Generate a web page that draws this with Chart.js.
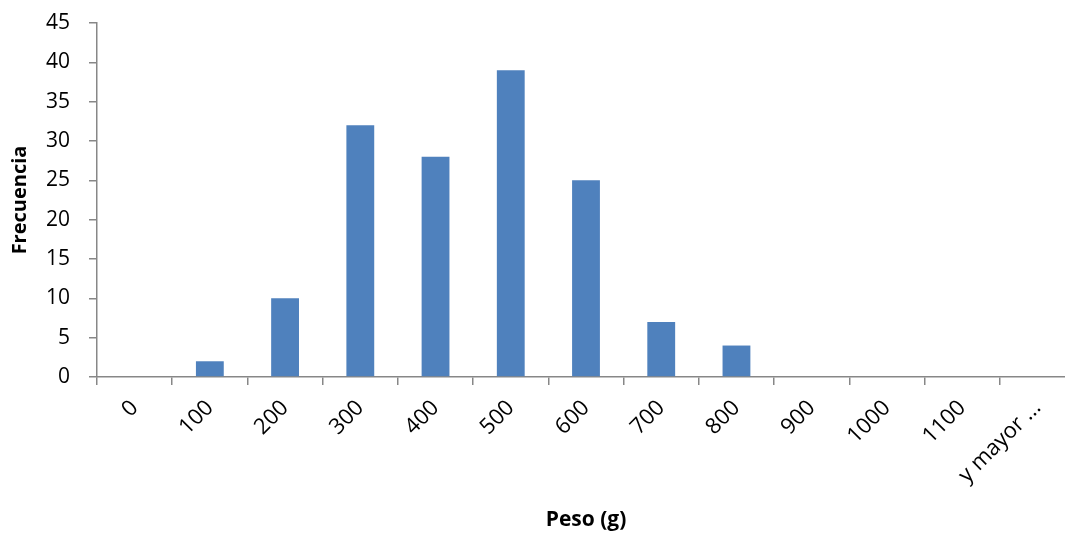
<!DOCTYPE html>
<html>
<head>
<meta charset="utf-8">
<script src="https://cdn.jsdelivr.net/npm/chart.js@4/dist/chart.umd.min.js"></script>
<style>
  html, body { margin: 0; padding: 0; background: #fff; overflow: hidden; }
  #wrap { width: 1076px; height: 533px; }
</style>
</head>
<body>
<div id="wrap"><canvas id="histo" width="1076" height="533"></canvas></div>
<script>
// bins and counts
const categories = ["0", "100", "200", "300", "400", "500", "600", "700", "800", "900", "1000", "1100", "y mayor ..."];
const frecuencia = [0, 2, 10, 32, 28, 39, 25, 7, 4, 0, 0, 0, 0];
const yTicks = [0, 5, 10, 15, 20, 25, 30, 35, 40, 45];

const axisGray = "#878787";
const fontFam = "'Open Sans', sans-serif";

var canv = document.getElementById("histo");

var myChart = new Chart(canv, {
  type: "bar",
  data: {
    labels: categories,
    datasets: [
      {
        label: "Frecuencia",
        data: frecuencia,
        backgroundColor: "#4F81BD",
        borderColor: "#4F81BD",
        borderWidth: 0,
        barPercentage: 0.37,
        categoryPercentage: 1.0,
      },
    ],
  },
  options: {
    responsive: false,
    animation: false,
    devicePixelRatio: 1,
    layout: { padding: { left: 0, right: 1, top: 23, bottom: 0 } },
    plugins: {
      legend: { display: false },
      tooltip: { enabled: false },
    },
    scales: {
      x: {
        offset: true,
        grid: {
          offset: true,
          display: true,
          drawOnChartArea: false,
          drawTicks: true,
          tickLength: 8,
          color: axisGray,
          lineWidth: 1.5,
        },
        border: { color: axisGray, width: 1.5 },
        ticks: {
          autoSkip: false,
          minRotation: 45,
          maxRotation: 45,
          padding: 10,
          color: "#000",
          font: { family: fontFam, size: 22 },
        },
        title: {
          display: true,
          text: "Peso (g)",
          color: "#000",
          font: { family: fontFam, size: 21, weight: "bold" },
          padding: { top: 0, bottom: 0 },
        },
        afterFit: function (scale) {
          scale.height = 156;
        },
      },
      y: {
        min: 0,
        max: yTicks[yTicks.length - 1],
        afterBuildTicks: function (scale) {
          scale.ticks = yTicks.map((v) => ({ value: v }));
        },
        grid: {
          display: true,
          drawOnChartArea: false,
          drawTicks: true,
          tickLength: 8,
          color: axisGray,
          lineWidth: 1.5,
        },
        border: { color: axisGray, width: 1.5 },
        ticks: {
          padding: 19,
          color: "#000",
          font: { family: fontFam, size: 21 },
        },
        title: {
          display: true,
          text: "Frecuencia",
          color: "#000",
          font: { family: fontFam, size: 20, weight: "bold" },
          padding: { top: 8, bottom: 0 },
        },
        afterFit: function (scale) {
          scale.width = 97;
          // let the top label hang over the edge like the original
          scale.paddingTop = 0;
          scale.paddingBottom = 0;
        },
      },
    },
  },
});
</script>
</body>
</html>
